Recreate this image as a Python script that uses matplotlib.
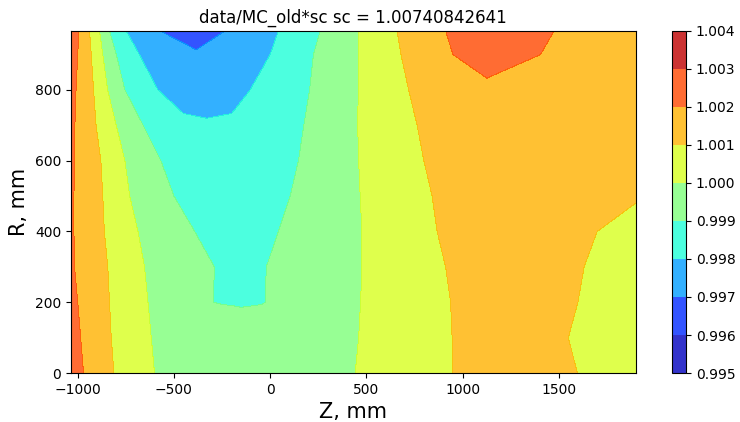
import numpy as np
import matplotlib
matplotlib.use("Agg")
import matplotlib.pyplot as plt

# rows of the map (R, mm)
r_rows = [0, 100, 200, 300, 400, 500, 600, 700, 800, 900, 967]

# Z position (mm) of the mesh nodes along each row
z_nodes = [
    [-1035, -970, -812, -601, -450, -350, -250, -150, -50, 50, 150, 442, 946, 1100, 1250, 1400, 1597, 1900],
    [-1035, -985, -826, -618, -450, -350, -250, -150, -50, 50, 150, 460, 946, 1100, 1250, 1400, 1550, 1900],
    [-1035, -1000, -835, -635, -295, -240, -180, -150, -100, -50, -26, 470, 938, 1050, 1200, 1400, 1600, 1900],
    [-1035, -1017, -844, -653, -290, -240, -180, -150, -100, -50, -20, 477, 912, 1050, 1200, 1400, 1632, 1900],
    [-1035, -1020, -862, -687, -392, -300, -220, -150, -80, 0, 43, 477, 868, 1000, 1200, 1400, 1700, 1900],
    [-1035, -1020, -870, -730, -500, -410, -320, -200, -80, 20, 104, 468, 842, 950, 1100, 1300, 1750, 1900],
    [-1035, -1017, -880, -755, -568, -470, -380, -250, -100, 0, 147, 460, 799, 950, 1100, 1300, 1700, 1900],
    [-1035, -1015, -905, -800, -660, -540, -450, -330, -200, -100, 175, 455, 764, 950, 1100, 1300, 1700, 1900],
    [-1035, -1009, -918, -845, -755, -583, -450, -330, -200, -104, 205, 458, 720, 950, 1100, 1300, 1700, 1900],
    [-1035, -1000, -930, -870, -800, -680, -500, -380, -250, 0, 225, 460, 680, 950, 1180, 1406, 1700, 1900],
    [-1035, -995, -939, -887, -835, -748, -573, -400, -234, 43, 260, 460, 660, 912, 1190, 1476, 1700, 1900],
]

# data/MC ratio at the nodes, as deviation from 1 in units of 1e-4
dev = [
    [23, 20, 10, 0, -4, -5, -6, -6, -6, -5, -4, 0, 10, 12, 12.5, 12, 10, 6],
    [22, 20, 10, 0, -4, -5.5, -6.5, -7, -6.5, -5.5, -4, 0, 10, 12, 12.5, 12, 10, 6],
    [21, 20, 10, 0, -10, -10.3, -10.4, -10.5, -10.4, -10.3, -10, 0, 10, 12, 12.5, 12, 10, 7],
    [21, 20, 10, 0, -10, -11, -11.5, -12, -11.5, -11, -10, 0, 10, 12, 12.5, 12, 10, 7],
    [21, 20, 10, 0, -10, -11, -12, -12.5, -12, -11, -10, 0, 10, 12, 12.5, 12, 10, 8],
    [21, 20, 10, 0, -10, -12, -13, -14, -13, -12, -10, 0, 10, 12, 13, 13, 12, 10.5],
    [21, 20, 10, 0, -10, -13, -15, -16, -15, -13, -10, 0, 10, 13, 14, 14, 14, 14],
    [22, 20, 10, 0, -10, -17, -18.5, -19, -18.5, -17, -10, 0, 10, 14, 15, 15, 15, 14],
    [22, 20, 10, 0, -10, -20, -23, -24, -23, -20, -10, 0, 10, 17, 18.5, 17, 15, 15],
    [22, 20, 10, 0, -10, -20, -27, -29, -27, -20, -10, 0, 10, 20, 23, 20, 16, 15],
    [22, 20, 10, 0, -10, -20, -30, -34, -30, -20, -10, 0, 10, 20, 24, 20, 16, 15],
]

levels = [0.995, 0.996, 0.997, 0.998, 0.999, 1.000, 1.001, 1.002, 1.003, 1.004]
sc = 1.00740842641

Z = np.array(z_nodes, dtype=float)
R = np.repeat(np.array(r_rows, dtype=float)[:, None], Z.shape[1], axis=1)
ratio = 1.0 + np.array(dev) * 1e-4

fig = plt.figure(figsize=(7.4, 4.22), dpi=100)
ax = fig.add_axes([0.096, 0.116, 0.763, 0.811])
cax = fig.add_axes([0.908, 0.116, 0.019, 0.811])

cs = ax.contourf(Z, R, ratio, levels=levels, cmap="jet", alpha=0.8)
ax.set_xlim(-1035, 1900)
ax.set_ylim(0, 967)
ax.set_xticks([-1000, -500, 0, 500, 1000, 1500])
ax.set_yticks([0, 200, 400, 600, 800])
ax.tick_params(labelsize=10)
ax.set_xlabel("Z, mm", fontsize=15)
ax.set_ylabel("R, mm", fontsize=15)
ax.set_title("data/MC_old*sc sc = " + str(sc), fontsize=12)

cb = fig.colorbar(cs, cax=cax, ticks=levels, format="%.3f")
cb.ax.tick_params(labelsize=10)

fig.savefig("out.png", dpi=100)
